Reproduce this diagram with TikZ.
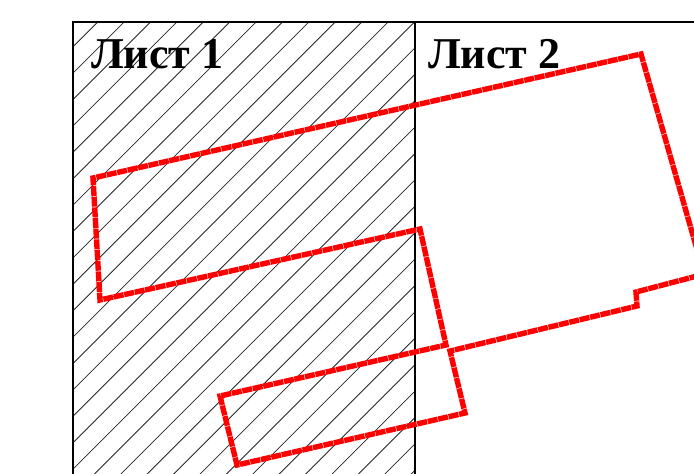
\documentclass[tikz,border=0pt]{standalone}
\usepackage{fontspec}
\setmainfont{Liberation Serif}
\tikzset{
  frameline/.style={line width=2.2pt,black},
  hatchline/.style={line width=0.8pt,black!85},
  redline/.style={line width=5.4pt,red,dash pattern=on 10pt off 0.7pt,line join=miter},
  title/.style={font=\bfseries\fontsize{44}{44}\selectfont,anchor=base west,inner sep=0pt}
}
\begin{document}
\begin{tikzpicture}[x=1pt,y=-1pt]
\useasboundingbox (0,0) rectangle (694,474);
\begin{scope}
\clip (73,22) rectangle (415,474);
\foreach \k in {-1,...,30}{
  \draw[hatchline] (73,{46.7+26.4*\k}) -- ++(500,-500);
}
\end{scope}
\draw[frameline] (73,474) -- (73,22) -- (694,22);
\draw[frameline] (415,22) -- (415,474);
\node[title] (l1) at (91,68) {Лист 1};
\node[title] (l2) at (428,68) {Лист 2};
\clip (0,0) rectangle (694,474);
\draw[redline] (720,270) -- (636,292) -- (637,306) -- (450,351) -- (465,413) -- (237,465) -- (220,396) -- (446,345) -- (420,229) -- (100,300) -- (93,178) -- (641,54) -- (700,260);
\end{tikzpicture}
\end{document}
